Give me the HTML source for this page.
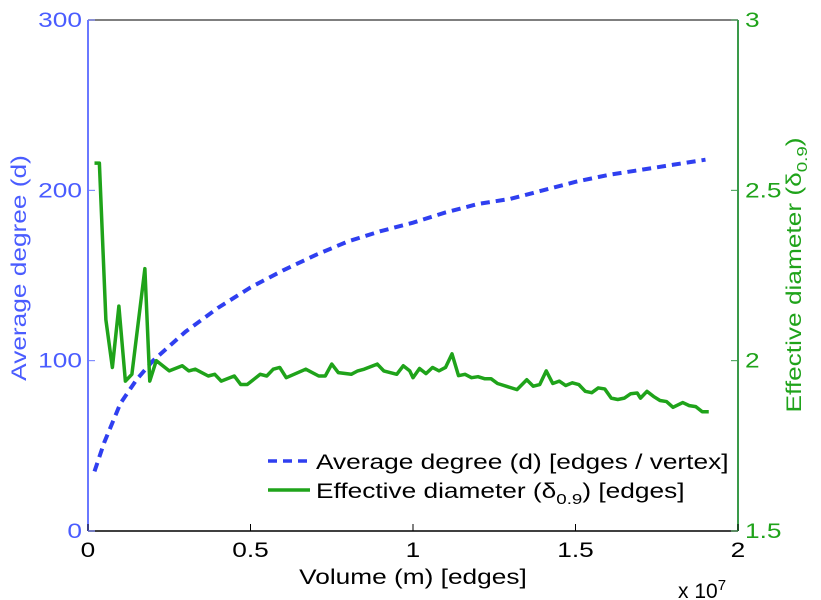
<!DOCTYPE html>
<html><head><meta charset="utf-8"><style>
body{margin:0;background:#fff}
svg{display:block;font-family:"Liberation Sans",sans-serif}
</style></head><body>
<svg id="chart" width="821" height="600" viewBox="0 0 821 600">
<g id="axes"></g>
<g id="series"></g>
<g id="legend">
  <line x1="268" y1="461" x2="310" y2="461" stroke="#2f3ff0" stroke-width="3.5" stroke-dasharray="9,6"/>
  <text class="w" x="316" y="469" font-size="21" fill="#000">Average degree (d) [edges / vertex]</text>
  <line x1="268" y1="490" x2="310" y2="490" stroke="#1fa31a" stroke-width="3.5"/>
  <text class="w" x="316" y="498" font-size="21" fill="#000">Effective diameter (δ<tspan font-size="15" dy="6">0.9</tspan><tspan dy="-6">) [edges]</tspan></text>
</g>
</svg>
<script>
const xTicks=[0,0.5,1,1.5,2];
const xTickLabels=["0","0.5","1","1.5","2"];
const leftTicks=[0,100,200,300];
const rightTicks=[1.5,2,2.5,3];
const rightTickLabels=["1.5","2","2.5","3"];
const degreeX=[0.02,0.05,0.1,0.15,0.2,0.3,0.4,0.5,0.6,0.7,0.8,0.9,1.0,1.1,1.2,1.3,1.4,1.5,1.6,1.7,1.8,1.9];
const degreeY=[35,52,75,89,100,117,131,143,153,162,170,176,181,187,192,195,200,205,209,212,215,218];
const diamX=[0.02,0.035,0.055,0.075,0.095,0.115,0.135,0.175,0.19,0.21,0.25,0.29,0.31,0.33,0.37,0.39,0.41,0.45,0.47,0.49,0.53,0.55,0.57,0.59,0.61,0.67,0.71,0.73,0.75,0.77,0.81,0.83,0.85,0.89,0.91,0.95,0.97,0.99,1.0,1.02,1.04,1.06,1.08,1.10,1.12,1.14,1.16,1.18,1.20,1.22,1.24,1.26,1.27,1.32,1.35,1.37,1.39,1.41,1.43,1.45,1.47,1.49,1.51,1.53,1.55,1.57,1.59,1.61,1.63,1.65,1.67,1.69,1.70,1.72,1.74,1.76,1.78,1.80,1.83,1.85,1.87,1.89,1.91];
const diamY=[2.58,2.58,2.12,1.98,2.16,1.94,1.96,2.27,1.94,2.0,1.97,1.985,1.97,1.975,1.955,1.96,1.94,1.955,1.93,1.93,1.96,1.955,1.975,1.98,1.95,1.975,1.955,1.955,1.99,1.965,1.96,1.97,1.975,1.99,1.97,1.96,1.985,1.97,1.95,1.977,1.962,1.98,1.97,1.98,2.02,1.956,1.96,1.95,1.953,1.947,1.947,1.933,1.93,1.915,1.944,1.925,1.93,1.97,1.933,1.94,1.927,1.935,1.93,1.91,1.906,1.92,1.917,1.89,1.886,1.89,1.903,1.905,1.89,1.91,1.895,1.883,1.88,1.863,1.877,1.868,1.865,1.85,1.85];
const L=88,R=738,T=20,B=531;
const sx=v=>L+(v-0)/(2-0)*(R-L);
const sl=v=>B-(v/300)*(B-T);
const sr=v=>B-((v-1.5)/1.5)*(B-T);
const NS="http://www.w3.org/2000/svg";
function mk(tag,attrs,parent,txt){const e=document.createElementNS(NS,tag);for(const k in attrs)e.setAttribute(k,attrs[k]);if(txt!==undefined)e.textContent=txt;parent.appendChild(e);return e;}
const ax=document.getElementById('axes');
let e;
e=mk('line',{x1:L,y1:T,x2:R,y2:T,stroke:'#555','stroke-width':1.5},ax);


e=mk('line',{x1:L,y1:B,x2:R,y2:B,stroke:'#000','stroke-width':1.5},ax);


e=mk('line',{x1:L,y1:T,x2:L,y2:B,stroke:'#6a78ff','stroke-width':2},ax);


e=mk('line',{x1:R,y1:T,x2:R,y2:B,stroke:'#3a9a4a','stroke-width':2},ax);


xTicks.forEach((t,i)=>{const x=sx(t);
 e=mk('line',{x1:x,y1:B,x2:x,y2:B-7,stroke:'#000'},ax);
 
 
 e=mk('text',{x:x,y:557,'font-size':21,'text-anchor':'middle',fill:'#000',class:'w'},ax,xTickLabels[i]);
 
 });
leftTicks.forEach(t=>{const y=sl(t);
 e=mk('line',{x1:L,y1:y,x2:L+7,y2:y,stroke:'#6a78ff'},ax);
 
 
 e=mk('text',{x:82,y:y+7,'font-size':21,'text-anchor':'end',fill:'#4a5cff',class:'w'},ax,String(t));
 
 });
rightTicks.forEach((t,i)=>{const y=sr(t);
 e=mk('line',{x1:R,y1:y,x2:R-7,y2:y,stroke:'#3a9a4a'},ax);
 
 
 e=mk('text',{x:745,y:y+7,'font-size':21,'text-anchor':'start',fill:'#1fa31a',class:'w'},ax,rightTickLabels[i]);
 
 });
e=mk('text',{x:413,y:584,'font-size':21,'text-anchor':'middle',fill:'#000',class:'w'},ax,'Volume (m) [edges]');


e=mk('text',{x:678,y:598,'font-size':21,fill:'#000'},ax,'x 10');


mk('tspan',{'font-size':15,dy:-8},e,'7');
e=mk('text',{x:0,y:0,'font-size':21,'text-anchor':'middle',fill:'#4a5cff',class:'w',transform:'translate(26,268) rotate(-90)'},ax,'Average degree (d)');


e=mk('text',{x:0,y:0,'font-size':21,'text-anchor':'middle',fill:'#1fa31a',class:'w',transform:'translate(801,275) rotate(-90)'},ax,'Effective diameter (δ');


mk('tspan',{'font-size':15,dy:6},e,'0.9');
mk('tspan',{dy:-6},e,')');
const sg=document.getElementById('series');
e=mk('polyline',{points:degreeX.map((x,i)=>sx(x)+','+sl(degreeY[i])).join(' '),fill:'none',stroke:'#2f3ff0','stroke-width':4,'stroke-dasharray':'9,6'},sg);


e=mk('polyline',{points:diamX.map((x,i)=>sx(x)+','+sr(diamY[i])).join(' '),fill:'none',stroke:'#1fa31a','stroke-width':3.5,'stroke-linejoin':'round'},sg);


document.querySelectorAll('text.w').forEach(t=>{const w=t.getComputedTextLength();t.setAttribute('textLength',(w*1.25).toFixed(1));t.setAttribute('lengthAdjust','spacingAndGlyphs');});
</script>
</body></html>
